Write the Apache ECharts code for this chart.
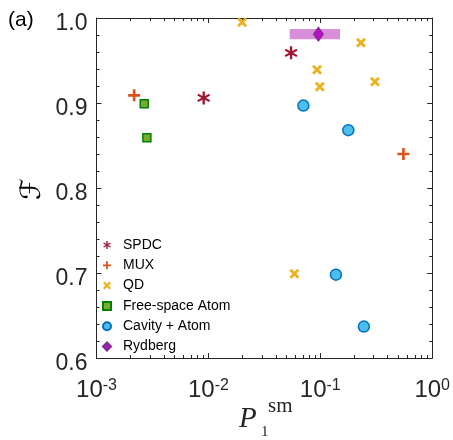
<!DOCTYPE html>
<html>
<head>
<meta charset="UTF-8">
<script src="https://cdn.jsdelivr.net/npm/echarts@6/dist/echarts.min.js"></script>
<style>
    html, body { margin: 0; padding: 0; background: #fff; }
    #chart { width: 453px; height: 440px; }
</style>
</head>
<body>
<div id="chart"></div>
<script>
    // data
    const spdcX = [0.0548, 0.00908];
    const spdcY = [0.959, 0.906];
    const muxX = [0.00217, 0.553];
    const muxY = [0.909, 0.840];
    const qdX = [0.0200, 0.231, 0.0935, 0.0989, 0.308, 0.0587];
    const qdY = [0.995, 0.971, 0.939, 0.919, 0.925, 0.699];
    const atomX = [0.00267, 0.00282];
    const atomY = [0.899, 0.859];
    const cavX = [0.0706, 0.178, 0.138, 0.245];
    const cavY = [0.897, 0.868, 0.698, 0.637];
    const rydX = [0.0962];
    const rydY = [0.981];
    const rydRangeX = [0.0533, 0.150];
    const rydRangeY = [0.975, 0.987];

    const xMin = 0.001, xMax = 1;
    const minorX = [];
    [0.001, 0.01, 0.1].forEach(d => {
        for (let k = 2; k <= 9; k++) minorX.push(+(d * k).toPrecision(3));
    });

    const pairs = (xs, ys) => xs.map((x, i) => [x, ys[i]]);

    // marker shapes: bars through the centre at the given angles
    function bars(angles, w) {
        let p = '';
        angles.forEach(a => {
            const t = a * Math.PI / 180;
            const dx = Math.sin(t), dy = -Math.cos(t);
            const nx = Math.cos(t) * w, ny = Math.sin(t) * w;
            const pts = [
                [5 * dx + nx, 5 * dy + ny], [5 * dx - nx, 5 * dy - ny],
                [-5 * dx - nx, -5 * dy - ny], [-5 * dx + nx, -5 * dy + ny]
            ];
            p += 'M' + pts.map(q => q[0].toFixed(2) + ',' + q[1].toFixed(2)).join('L') + 'Z';
        });
        return 'path://' + p;
    }
    const starPath = bars([0, 60, 120], 0.85);
    const plusPath = 'path://M-1.1,-5L1.1,-5L1.1,-1.1L5,-1.1L5,1.1L1.1,1.1L1.1,5L-1.1,5L-1.1,1.1L-5,1.1L-5,-1.1L-1.1,-1.1Z';
    const crossPath = bars([45, 135], 1.25);

    const axisColor = '#262626';
    const font = '"Liberation Sans", Arial, sans-serif';
    const serif = '"Liberation Serif", "DejaVu Serif", serif';

    function xAxisBase(pos) {
        return {
            type: 'log', logBase: 10, min: xMin, max: xMax, position: pos,
            axisLine: { show: true, onZero: false, lineStyle: { color: axisColor, width: 1 } },
            axisTick: { show: true, inside: true, length: 5, lineStyle: { color: axisColor } },
            axisLabel: { show: false },
            splitLine: { show: false },
            minorTick: { show: false }
        };
    }
    function xMinor(pos) {
        return {
            type: 'log', logBase: 10, min: xMin, max: xMax, position: pos,
            axisLine: { show: false },
            axisTick: { show: true, inside: true, length: 3, customValues: minorX, lineStyle: { color: axisColor } },
            axisLabel: { show: false },
            splitLine: { show: false }
        };
    }
    function yAxisBase(pos, labels) {
        return {
            type: 'value', min: 0.6, max: 1.0, interval: 0.1, position: pos,
            axisLine: { show: true, onZero: false, lineStyle: { color: axisColor, width: 1 } },
            axisTick: { show: true, inside: true, length: 5, lineStyle: { color: axisColor } },
            minorTick: { show: true, splitNumber: 5, length: 3, lineStyle: { color: axisColor } },
            axisLabel: {
                show: labels, margin: 9, color: axisColor, fontFamily: font,
                formatter: v => '{a|' + v.toFixed(1) + '}',
                rich: { a: { fontSize: 23, fontFamily: font, color: axisColor, padding: [12, 0, 0, 0] } }
            },
            splitLine: { show: false }
        };
    }

    const xMain = xAxisBase('bottom');
    xMain.axisLabel = {
        show: true, margin: 20, color: axisColor, fontFamily: font,
        formatter: v => '{b|10}{s|' + Math.round(Math.log10(v)) + '}',
        rich: {
            b: { fontSize: 24, fontFamily: font, color: axisColor, verticalAlign: 'bottom' },
            s: { fontSize: 16, fontFamily: font, color: axisColor, verticalAlign: 'top' }
        }
    };

    const chart = echarts.init(document.getElementById('chart'));
    chart.setOption({
        animation: false,
        grid: { left: 96.5, right: 20, top: 18, bottom: 82, containLabel: false },
        xAxis: [xMain, xMinor('bottom'), xAxisBase('top'), xMinor('top')],
        yAxis: [yAxisBase('left', true), yAxisBase('right', false)],
        legend: {
            orient: 'vertical', left: 102, top: 238, padding: 0, itemGap: 6.3,
            itemWidth: 8, itemHeight: 8,
            textStyle: { fontSize: 14, fontFamily: font, color: '#000', padding: [0, 0, 0, 7] },
            data: ['SPDC', 'MUX', 'QD', 'Free-space Atom', 'Cavity + Atom', 'Rydberg']
        },
        graphic: [
            { type: 'text', left: 8, top: 10, style: { text: '(a)', fontSize: 21, fontFamily: font, fill: '#000' } },
            { type: 'text', x: 239, y: 434, style: { text: 'P', fontSize: 29, fontStyle: 'italic', fontFamily: serif, fill: axisColor, textVerticalAlign: 'bottom' } },
            { type: 'text', x: 261, y: 440, style: { text: '1', fontSize: 15, fontFamily: serif, fill: axisColor, textVerticalAlign: 'bottom' } },
            { type: 'text', x: 268, y: 417, style: { text: 'sm', fontSize: 21, fontFamily: serif, fill: axisColor, textVerticalAlign: 'bottom' } },
            { type: 'text', x: 33, y: 189, rotation: Math.PI / 2, style: { text: 'ℱ', fontSize: 28, fontFamily: '"DejaVu Serif", "DejaVu Sans", serif', fill: '#000', textAlign: 'center', textVerticalAlign: 'middle' } }
        ],
        series: [
            {
                name: 'SPDC', type: 'scatter', data: pairs(spdcX, spdcY),
                symbol: starPath, symbolSize: 13, itemStyle: { color: '#A2142F', opacity: 1 }
            },
            {
                name: 'MUX', type: 'scatter', data: pairs(muxX, muxY),
                symbol: plusPath, symbolSize: 12, itemStyle: { color: '#D95319', opacity: 1 }
            },
            {
                name: 'QD', type: 'scatter', data: pairs(qdX, qdY),
                symbol: crossPath, symbolSize: 10, itemStyle: { color: '#EDB120', opacity: 1 }
            },
            {
                name: 'Free-space Atom', type: 'scatter', data: pairs(atomX, atomY),
                symbol: 'rect', symbolSize: 8,
                itemStyle: { color: '#77AC30', borderColor: '#008000', borderWidth: 1.5, opacity: 1 }
            },
            {
                name: 'Cavity + Atom', type: 'scatter', data: pairs(cavX, cavY),
                symbol: 'circle', symbolSize: 11,
                itemStyle: { color: '#4DBEEE', borderColor: '#0072BD', borderWidth: 1.5, opacity: 1 }
            },
            {
                name: 'Rydberg', type: 'scatter', data: pairs(rydX, rydY), z: 5,
                symbol: 'diamond', symbolSize: [10, 14],
                itemStyle: { color: '#B015C0', borderColor: '#7E2F8E', borderWidth: 1, opacity: 1 },
                markArea: {
                    silent: true,
                    itemStyle: { color: '#D98ED9', opacity: 1 },
                    data: [[{ coord: [rydRangeX[0], rydRangeY[1]] }, { coord: [rydRangeX[1], rydRangeY[0]] }]]
                }
            }
        ]
    });
</script>
</body>
</html>
